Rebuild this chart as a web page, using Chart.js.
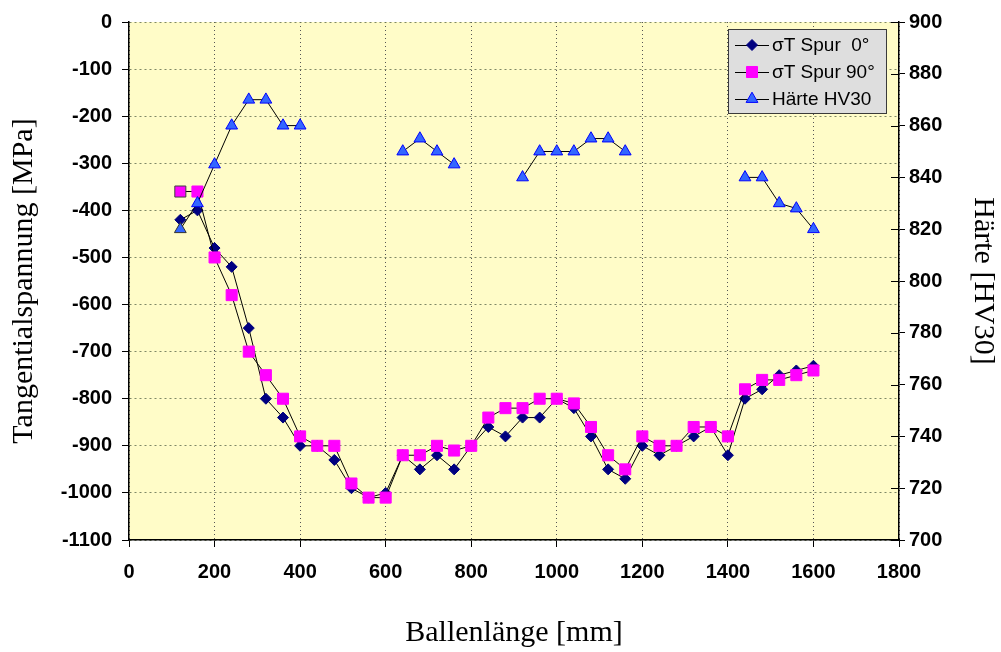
<!DOCTYPE html>
<html>
<head>
<meta charset="utf-8">
<script src="https://cdn.jsdelivr.net/npm/chart.js@4/dist/chart.umd.min.js"></script>
<style>
body { margin: 0; background: #fff; }
</style>
</head>
<body>
<canvas id="chart" width="1001" height="652"></canvas>
<script>
'use strict';
// Messpositionen entlang des Ballens [mm]
const ballenlaenge = [120, 160, 200, 240, 280, 320, 360, 400, 440, 480, 520, 560, 600, 640, 680, 720, 760, 800, 840,
    880, 920, 960, 1000, 1040, 1080, 1120, 1160, 1200, 1240, 1280, 1320, 1360, 1400, 1440, 1480, 1520, 1560, 1600];

// Tangentialspannung Spur 0° [MPa]
const spur0 = [-420, -400, -480, -520, -650, -800, -840, -900, -900, -930, -990, -1010, -1000, -920, -950, -920, -950,
    -900, -860, -880, -840, -840, -800, -820, -880, -950, -970, -900, -920, -900, -880, -860, -920, -800, -780, -750, -740, -730];

// Tangentialspannung Spur 90° [MPa]
const spur90 = [-360, -360, -500, -580, -700, -750, -800, -880, -900, -900, -980, -1010, -1010, -920, -920, -900, -910,
    -900, -840, -820, -820, -800, -800, -810, -860, -920, -950, -880, -900, -900, -860, -860, -880, -780, -760, -760, -750, -740];

// Härte HV30 (null = nicht gemessen)
const haerte = [820, 830, 845, 860, 870, 870, 860, 860, null, null, null, null, null, 850, 855, 850, 845,
    null, null, null, 840, 850, 850, 850, 855, 855, 850, null, null, null, null, null, null, 840, 840, 830, 828, 820];

const legendLabels = ['\u03c3T Spur  0\u00b0', '\u03c3T Spur 90\u00b0', 'H\u00e4rte HV30'];

const tickFont = { family: 'Liberation Sans', size: 20, weight: 'bold' };
const titleFont = { family: 'Liberation Serif', size: 30 };

function toPoints(values) {
    return values.map((v, i) => ({ x: ballenlaenge[i], y: v }));
}

// Hintergrund der Zeichnungsfläche
const plotBackground = {
    id: 'plotBackground',
    beforeDraw(chart) {
        const { ctx, chartArea: a } = chart;
        ctx.save();
        ctx.fillStyle = '#FFFCC8';
        ctx.fillRect(a.left, a.top, a.right - a.left, a.bottom - a.top);
        ctx.restore();
    }
};

// Teilstriche der rechten Achse auch nach innen
const innerTicks = {
    id: 'innerTicks',
    afterDraw(chart) {
        const scale = chart.scales.y2;
        const ctx = chart.ctx;
        ctx.save();
        ctx.strokeStyle = '#000';
        ctx.lineWidth = 1;
        scale.ticks.forEach(t => {
            const y = Math.round(scale.getPixelForValue(t.value)) + 0.5;
            ctx.beginPath();
            ctx.moveTo(scale.left - 8, y);
            ctx.lineTo(scale.left, y);
            ctx.stroke();
        });
        ctx.restore();
    }
};

// Legende im Diagramm oben rechts
const legendBox = {
    id: 'legendBox',
    afterDraw(chart) {
        const ctx = chart.ctx;
        const x0 = 728, y0 = 29, w = 158, h = 84;
        ctx.save();
        ctx.fillStyle = '#DEDEDE';
        ctx.fillRect(x0, y0, w, h);
        ctx.strokeStyle = '#3a3a3a';
        ctx.lineWidth = 1;
        ctx.strokeRect(x0 + 0.5, y0 + 0.5, w, h);
        ctx.font = '19px "Liberation Sans"';
        ctx.textBaseline = 'middle';
        chart.data.datasets.forEach((ds, i) => {
            const y = y0 + 16 + i * 27;
            ctx.strokeStyle = '#000';
            ctx.lineWidth = 1;
            ctx.beginPath();
            ctx.moveTo(x0 + 7, y + 0.5);
            ctx.lineTo(x0 + 41, y + 0.5);
            ctx.stroke();
            ctx.fillStyle = ds.pointBackgroundColor;
            ctx.strokeStyle = ds.markerEdge;
            Chart.helpers.drawPoint(ctx, {
                pointStyle: ds.pointStyle,
                radius: ds.pointRadius,
                rotation: 0,
                borderWidth: 1
            }, x0 + 24, y);
            ctx.fillStyle = '#000';
            ctx.fillText(legendLabels[i], x0 + 44, y + 1);
        });
        ctx.restore();
    }
};

new Chart(document.getElementById('chart'), {
    type: 'line',
    data: {
        datasets: [
            {
                label: legendLabels[0],
                data: toPoints(spur0),
                yAxisID: 'y',
                order: 2,
                borderColor: '#000',
                borderWidth: 1,
                pointStyle: 'rectRot',
                pointRadius: 5.5,
                pointBackgroundColor: '#000080',
                pointBorderColor: '#000080',
                markerEdge: '#000080',
                pointBorderWidth: 1
            },
            {
                label: legendLabels[1],
                data: toPoints(spur90),
                yAxisID: 'y',
                order: 1,
                borderColor: '#000',
                borderWidth: 1,
                pointStyle: 'rect',
                pointRadius: 7.8,
                pointBackgroundColor: '#FF00FF',
                pointBorderColor: ctx => ctx.dataIndex === 0 ? '#404040' : '#FF00FF',
                markerEdge: '#FF00FF',
                pointBorderWidth: 1
            },
            {
                label: legendLabels[2],
                data: toPoints(haerte),
                yAxisID: 'y2',
                order: 0,
                borderColor: '#000',
                borderWidth: 1,
                pointStyle: 'triangle',
                pointRadius: 6.8,
                pointBackgroundColor: '#3366FF',
                pointBorderColor: ctx => ctx.dataIndex === 0 ? '#333333' : '#0000FF',
                markerEdge: '#0000FF',
                pointBorderWidth: 1
            }
        ]
    },
    options: {
        responsive: false,
        animation: false,
        layout: { padding: { top: 20, left: 0, right: 0, bottom: 0 } },
        plugins: {
            legend: { display: false },
            tooltip: { enabled: false }
        },
        elements: { line: { tension: 0 } },
        scales: {
            x: {
                type: 'linear',
                min: 0,
                max: 1800,
                afterFit: scale => { scale.height = 112; },
                ticks: {
                    stepSize: 200,
                    color: '#000',
                    font: tickFont,
                    padding: 13,
                    maxRotation: 0,
                    callback: v => String(v)
                },
                grid: {
                    color: '#555',
                    lineWidth: 1,
                    tickLength: 7,
                    tickColor: '#000',
                    tickBorderDash: []
                },
                border: { color: '#000', width: 1.5, dash: [1, 3] },
                title: {
                    display: true,
                    text: 'Ballenl\u00e4nge [mm]',
                    color: '#000',
                    font: titleFont,
                    padding: { top: 0, bottom: 1 }
                }
            },
            y: {
                position: 'left',
                min: -1100,
                max: 0,
                afterFit: scale => { scale.width = 129; },
                ticks: {
                    stepSize: 100,
                    color: '#000',
                    font: tickFont,
                    padding: 10,
                    callback: v => String(v)
                },
                grid: {
                    color: 'rgba(105,115,85,0.85)',
                    lineWidth: 1,
                    tickLength: 7,
                    tickColor: '#000',
                    tickBorderDash: []
                },
                border: { color: '#000', width: 1.5, dash: [2, 3] },
                title: {
                    display: true,
                    text: 'Tangentialspannung [MPa]',
                    color: '#000',
                    font: titleFont,
                    padding: { top: 6, bottom: 0 }
                }
            },
            y2: {
                position: 'right',
                min: 700,
                max: 900,
                afterFit: scale => { scale.width = 102; },
                ticks: {
                    stepSize: 20,
                    color: '#000',
                    font: tickFont,
                    padding: 4,
                    callback: v => String(v)
                },
                grid: {
                    drawOnChartArea: false,
                    tickLength: 6,
                    tickColor: '#000'
                },
                border: { color: '#000', width: 1.5 },
                title: {
                    display: true,
                    text: 'H\u00e4rte [HV30]',
                    color: '#000',
                    font: titleFont,
                    padding: { top: 0, bottom: 0 }
                }
            }
        }
    },
    plugins: [plotBackground, innerTicks, legendBox]
});
</script>
</body>
</html>
